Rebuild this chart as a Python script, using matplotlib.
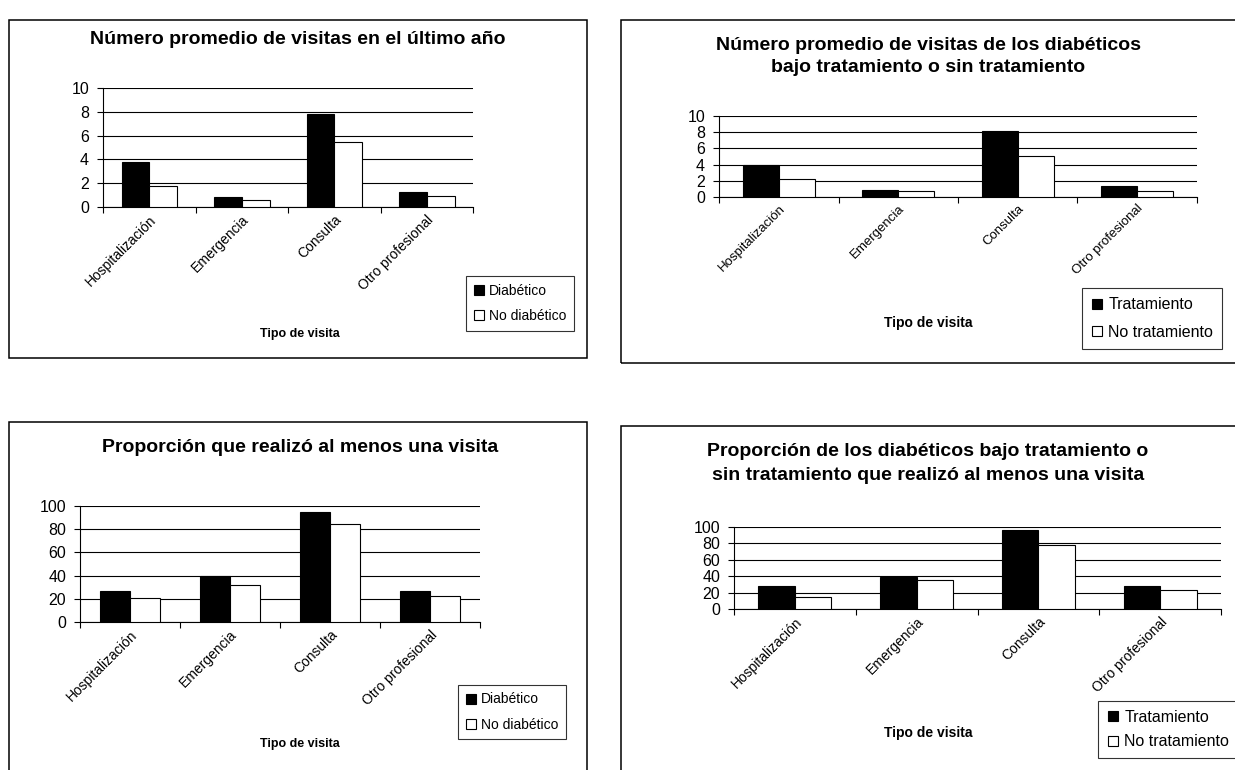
import matplotlib
matplotlib.use("Agg")
import matplotlib.pyplot as plt
from matplotlib.patches import Rectangle
from matplotlib.lines import Line2D
from matplotlib.transforms import ScaledTranslation

plt.rcParams['font.family'] = ['Liberation Sans', 'DejaVu Sans']

W, H = 1235, 770

categorias = ["Hospitalización", "Emergencia", "Consulta", "Otro profesional"]

# Número promedio de visitas
visitas_diabetico = [3.8, 0.85, 7.8, 1.3]
visitas_no_diabetico = [1.8, 0.6, 5.45, 0.95]
visitas_tratamiento = [4.0, 0.9, 8.1, 1.4]
visitas_no_tratamiento = [2.2, 0.7, 5.0, 0.7]

# Proporción (%) que realizó al menos una visita
prop_diabetico = [27, 39.5, 94.5, 27]
prop_no_diabetico = [20.5, 31.5, 84.5, 22]
prop_tratamiento = [28.5, 39.5, 96.5, 28.5]
prop_no_tratamiento = [15, 35, 78, 23.5]

ticks_visitas = [0, 2, 4, 6, 8, 10]
ticks_prop = [0, 20, 40, 60, 80, 100]

fig = plt.figure(figsize=(W / 100, H / 100), dpi=100)


def px_axes(left, top, right, bottom):
    return fig.add_axes([left / W, 1 - bottom / H, (right - left) / W, (bottom - top) / H])


def frame(left, top, right, bottom):
    fig.patches.append(Rectangle((left / W, 1 - bottom / H), (right - left) / W, (bottom - top) / H,
                                 transform=fig.transFigure, fill=False, edgecolor='black',
                                 linewidth=1.1, zorder=0))


def ftext(x, y, s, **kw):
    fig.text(x / W, 1 - y / H, s, ha='center', va='center', **kw)


def panel(box, a, b, yticks, label_a, label_b, legend_box, legend_size,
          label_size=10, label_dx=0, spacing=0.8):
    ax = px_axes(*box)
    n = len(categorias)
    w = 0.30
    xs = range(n)
    ax.bar([i + 0.5 - w / 2 for i in xs], a, width=w, color='black', edgecolor='black',
           linewidth=0.8, zorder=3)
    ax.bar([i + 0.5 + w / 2 for i in xs], b, width=w, color='white', edgecolor='black',
           linewidth=0.8, zorder=3)
    ax.set_xlim(0, n)
    ax.set_ylim(yticks[0], yticks[-1])
    ax.set_yticks(yticks)
    ax.yaxis.grid(True, color='black', linewidth=0.8, zorder=0)
    ax.set_axisbelow(True)
    ax.set_xticks(range(n + 1))
    ax.set_xticklabels([])
    ax.set_xticks([i + 0.5 for i in xs], minor=True)
    ax.set_xticklabels(categorias, minor=True, rotation=45, ha='right',
                       rotation_mode='anchor', fontsize=label_size)
    if label_dx:
        shift = ScaledTranslation(label_dx / 100, 0, fig.dpi_scale_trans)
        for t in ax.get_xticklabels(minor=True):
            t.set_transform(t.get_transform() + shift)
    ax.tick_params(axis='x', which='minor', length=0, pad=4)
    ax.tick_params(axis='x', which='major', length=4, width=0.8, direction='out')
    ax.tick_params(axis='y', length=4, width=0.8, direction='out', labelsize=11.5, pad=6)
    for s in ('top', 'right'):
        ax.spines[s].set_visible(False)
    for s in ('left', 'bottom'):
        ax.spines[s].set_linewidth(0.8)
    handles = [Line2D([], [], marker='s', linestyle='none', markersize=7,
                      markerfacecolor='black', markeredgecolor='black', markeredgewidth=0.8),
               Line2D([], [], marker='s', linestyle='none', markersize=7,
                      markerfacecolor='white', markeredgecolor='black', markeredgewidth=0.8)]
    lx0, ly0, lx1, ly1 = legend_box
    leg = fig.legend(handles, [label_a, label_b], loc='center left',
                     bbox_to_anchor=(lx0 / W, 1 - (ly0 + ly1) / 2 / H),
                     fontsize=legend_size, frameon=True, fancybox=False, edgecolor='black',
                     handlelength=0.8, handletextpad=0.3, labelspacing=spacing,
                     borderpad=0.55, borderaxespad=0)
    leg.get_frame().set_linewidth(0.8)
    return ax


# Marcos de cada gráfico
frame(9, 20, 587, 358)
frame(621, 20, 1300, 363)
frame(9, 422, 587, 800)
frame(621, 426, 1300, 800)

# Arriba a la izquierda
panel((103, 88, 473, 207), visitas_diabetico, visitas_no_diabetico, ticks_visitas,
      "Diabético", "No diabético", (466, 277, 573, 330), 10)
ftext(298, 40, "Número promedio de visitas en el último año", fontsize=14, fontweight='bold')
ftext(300, 334, "Tipo de visita", fontsize=9, fontweight='bold')

# Arriba a la derecha
panel((719, 116, 1197, 197), visitas_tratamiento, visitas_no_tratamiento, ticks_visitas,
      "Tratamiento", "No tratamiento", (1082, 288, 1260, 349), 11.5,
      label_size=9.5, label_dx=-20)
ftext(928, 46, "Número promedio de visitas de los diabéticos", fontsize=14, fontweight='bold')
ftext(928, 68, "bajo tratamiento o sin tratamiento", fontsize=14, fontweight='bold')
ftext(928, 323, "Tipo de visita", fontsize=10, fontweight='bold')

# Abajo a la izquierda
panel((80, 506, 480, 622), prop_diabetico, prop_no_diabetico, ticks_prop,
      "Diabético", "No diabético", (458, 681, 568, 743), 10)
ftext(300, 447, "Proporción que realizó al menos una visita", fontsize=14, fontweight='bold')
ftext(300, 744, "Tipo de visita", fontsize=9, fontweight='bold')

# Abajo a la derecha
panel((734, 527, 1221, 609), prop_tratamiento, prop_no_tratamiento, ticks_prop,
      "Tratamiento", "No tratamiento", (1098, 702, 1260, 757), 11.5, spacing=0.6)
ftext(928, 452, "Proporción de los diabéticos bajo tratamiento o", fontsize=14, fontweight='bold')
ftext(928, 475, "sin tratamiento que realizó al menos una visita", fontsize=14, fontweight='bold')
ftext(928, 733, "Tipo de visita", fontsize=10, fontweight='bold')

fig.savefig("out.png", dpi=100, facecolor='white')
